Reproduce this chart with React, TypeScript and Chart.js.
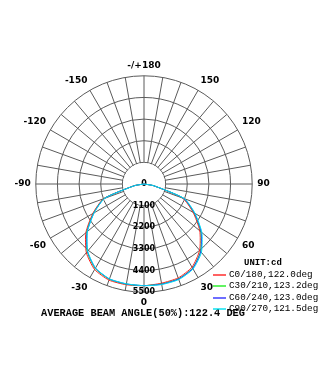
import React, { useEffect, useRef } from 'react';
import { Chart, registerables } from 'chart.js';

Chart.register(...registerables);

// Polar angles (deg) in clockwise order, starting at the bottom (0)
const angles = [0, -10, -20, -30, -40, -50, -60, -70, -80, -90, -100, -110, -120, -130, -140, -150, -160, -170,
  180, 170, 160, 150, 140, 130, 120, 110, 100, 90, 80, 70, 60, 50, 40, 30, 20, 10];

// Ring values (cd)
const ringValues = [0, 1100, 2200, 3300, 4400, 5500];

// Luminous intensity per C-plane (cd), same order as angles
const c0_180 = [5170, 5200, 5200, 5020, 4560, 3860, 3010, 2190, 520, 0, 0, 0, 0, 0, 0, 0, 0, 0,
  0, 0, 0, 0, 0, 0, 0, 0, 0, 0, 480, 2080, 2880, 3700, 4400, 4880, 5080, 5120];
const c30_210 = [5165, 5170, 5150, 4960, 4490, 3790, 2960, 2150, 500, 0, 0, 0, 0, 0, 0, 0, 0, 0,
  0, 0, 0, 0, 0, 0, 0, 0, 0, 0, 495, 2140, 2940, 3770, 4470, 4940, 5130, 5160];
const c60_240 = [5165, 5160, 5140, 4940, 4470, 3770, 2940, 2140, 495, 0, 0, 0, 0, 0, 0, 0, 0, 0,
  0, 0, 0, 0, 0, 0, 0, 0, 0, 0, 500, 2150, 2960, 3790, 4490, 4950, 5140, 5170];
const c90_270 = [5170, 5150, 5130, 4930, 4450, 3750, 2920, 2120, 490, 0, 0, 0, 0, 0, 0, 0, 0, 0,
  0, 0, 0, 0, 0, 0, 0, 0, 0, 0, 510, 2190, 3000, 3840, 4540, 4990, 5170, 5190];

const seriesNames = ['C0/180', 'C30/210', 'C60/240', 'C90/270'];
const seriesColors = ['#ff2020', '#20ee20', '#3030ff', '#00e0f0'];
const beamAngles = [122.0, 123.2, 123.0, 121.5];
const seriesValues = [c0_180, c30_210, c60_240, c90_270];
const unitLabel = 'UNIT:cd';
const averageBeamAngle = 122.4;

const GRID = '#5a5a5a';

export default function App() {
  const ref = useRef<HTMLCanvasElement>(null);

  useEffect(() => {
    const canvas = ref.current;
    if (!canvas) return;

    const polarExtras = {
      id: 'polarExtras',
      beforeDatasetsDraw(chart: any) {
        const s = chart.scales.r;
        const ctx = chart.ctx;
        const r1 = s.getDistanceFromCenterForValue(ringValues[1]);
        ctx.save();
        ctx.beginPath();
        ctx.arc(s.xCenter, s.yCenter, r1 - 0.5, 0, Math.PI * 2);
        ctx.fillStyle = '#ffffff';
        ctx.fill();
        ctx.font = 'bold 8px "DejaVu Sans"';
        ctx.fillStyle = '#000';
        ctx.textAlign = 'center';
        ctx.textBaseline = 'middle';
        s.ticks.forEach((t: any) => {
          const d = s.getDistanceFromCenterForValue(t.value);
          ctx.fillText(String(t.value), s.xCenter, s.yCenter + d);
        });
        ctx.restore();
      },
    };

    const chart = new Chart(canvas, {
      type: 'radar',
      data: {
        labels: angles,
        datasets: seriesValues.map((vals, i) => ({
          label: seriesNames[i],
          data: vals,
          borderColor: seriesColors[i],
          backgroundColor: seriesColors[i],
          borderWidth: 1,
          pointRadius: 0,
          fill: false,
          tension: 0.2,
          order: seriesValues.length - i,
        })),
      },
      options: {
        animation: false,
        responsive: false,
        devicePixelRatio: 1,
        layout: { padding: { left: 12, right: 57, top: 60, bottom: 60 } },
        scales: {
          r: {
            min: ringValues[0],
            max: ringValues[ringValues.length - 1],
            startAngle: 180,
            ticks: { stepSize: ringValues[1], display: false },
            grid: { color: GRID, lineWidth: 1, circular: true },
            angleLines: { color: GRID, lineWidth: 1 },
            pointLabels: {
              display: true,
              padding: 5,
              color: '#000',
              font: { family: 'DejaVu Sans', size: 9, weight: 'bold' },
              callback: (label: any) => {
                const a = Number(label);
                if (a % 30 !== 0) return '';
                return a === 180 ? '-/+180' : String(a);
              },
            },
          },
        },
        plugins: {
          legend: { display: false },
          tooltip: { enabled: false },
          title: {
            display: true,
            position: 'bottom',
            fullSize: false,
            text: `AVERAGE BEAM ANGLE(50%):${averageBeamAngle.toFixed(1)} DEG`,
            color: '#000',
            font: { family: 'Liberation Mono', size: 10.3, weight: 'bold', lineHeight: 0.8 },
            padding: { top: 0, bottom: 0 },
          },
        },
      } as any,
      plugins: [polarExtras],
    });
    return () => chart.destroy();
  }, []);

  const rowTop = [274, 285.5, 297, 308.5];
  return (
    <div style={{ position: 'absolute', left: 0, top: 0, width: 331, height: 378, background: '#fff' }}>
      <canvas ref={ref} width={331} height={378} style={{ display: 'block' }} />
      <div style={{ position: 'absolute', left: 244, top: 263 - 5.5, height: 11, lineHeight: '11px',
        font: 'bold 9px "Liberation Mono"', color: '#000', whiteSpace: 'nowrap' }}>{unitLabel}</div>
      {seriesNames.map((n, i) => (
        <div key={n} style={{ position: 'absolute', left: 213, top: rowTop[i] - 5.5, height: 11, whiteSpace: 'nowrap' }}>
          <div style={{ position: 'absolute', left: 0, top: 5, width: 13, height: 2, background: seriesColors[i], opacity: 0.7 }} />
          <div style={{ position: 'absolute', left: 16, top: 0, lineHeight: '11px', font: '9.3px "Liberation Mono"', color: '#000' }}>
            {`${n},${beamAngles[i].toFixed(1)}deg`}
          </div>
        </div>
      ))}
    </div>
  );
}
